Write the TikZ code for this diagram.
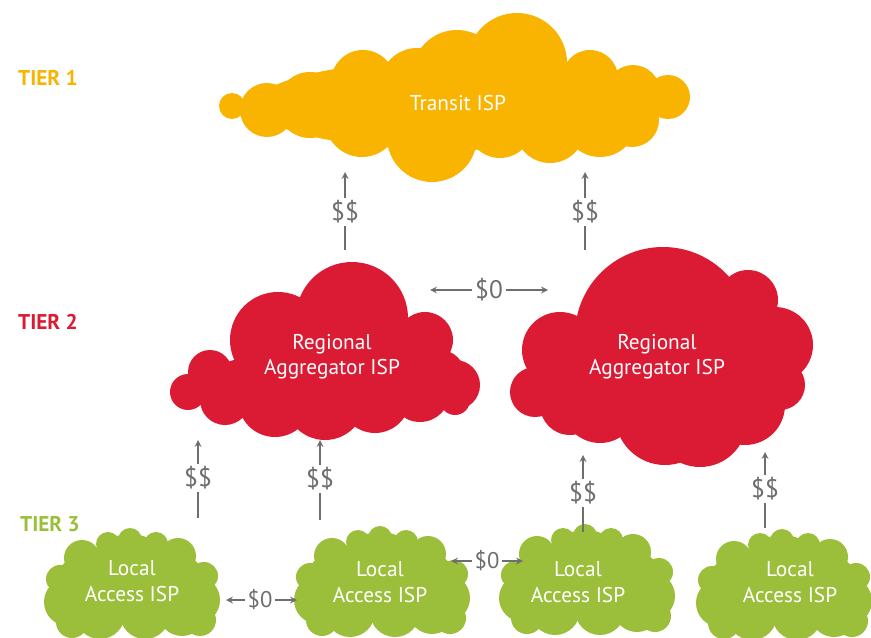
\documentclass[tikz,border=0pt]{standalone}
\usepackage{fontspec}
\setmainfont{PT Sans}
\definecolor{tierone}{HTML}{F8B400}
\definecolor{tiertwo}{HTML}{DB1A33}
\definecolor{tierthree}{HTML}{9CBF3B}
\definecolor{paygray}{HTML}{6E6E6E}
\newcommand\blobs[2]{\foreach \cx/\cy/\r in {#2} \fill[#1] (\cx,\cy) circle (\r);}
\newcommand\localcloud[2]{\foreach \dx/\dy/\r in {0/-6/44,-38/5/38,40/5/38,-62/18/24,66/16/24,-30/30/25,15/30/25,52/28/24,-70/-5/14,74/-8/14,-48/-26/18,48/-28/18,-22/-40/12,26/-40/12,0/-44/12,-58/38/16,70/36/16}
  \fill[tierthree] (#1+\dx,#2+\dy) circle (\r);}
\tikzset{
  tier/.style={font=\bfseries\fontsize{16}{18}\selectfont},
  isp/.style={text=white,align=center,font=\fontsize{16}{19}\selectfont},
  fee/.style={text=paygray,font=\fontsize{19}{19}\selectfont,inner sep=2pt},
  peer/.style={text=paygray,font=\fontsize{17}{17}\selectfont,inner sep=2pt},
  payline/.style={draw=paygray,line width=1.3pt}
}
\begin{document}
\begin{tikzpicture}[>=stealth,x=0.75pt,y=-0.75pt]
  \useasboundingbox (0,0) rectangle (871,638);
  \fill[tierone] (455,105) ellipse (200 and 45);
  \blobs{tierone}{232/106/13,267/110/27,310/105/33,363/82/32,362/120/37,417/85/37,457/75/45,432/137/45,517/63/50,500/125/33,550/128/35,590/78/28,600/120/37,633/92/27,632/120/27,668/97/22}
  \fill[tiertwo] (325,385) ellipse (130 and 35);
  \blobs{tiertwo}{352/318/56,278/340/48,350/360/50,400/365/35,425/340/28,440/375/25,455/385/25,210/372/22,188/392/18,225/400/25,275/400/37,325/400/40,375/398/35,420/392/30,455/400/15}
  \fill[tiertwo] (660,385) ellipse (140 and 45);
  \blobs{tiertwo}{663/335/88,748/300/30,775/345/38,560/350/38,535/392/25,570/405/30,600/405/38,665/415/50,700/420/47,745/405/40,780/385/25}
  \localcloud{130}{584}
  \localcloud{380}{582}
  \localcloud{585}{580}
  \localcloud{782}{585}
  \node[tier,text=tierone] (tierA) at (48,78) {TIER 1};
  \node[tier,text=tiertwo] (tierB) at (48,322) {TIER 2};
  \node[tier,text=tierthree] (tierC) at (50,524) {TIER 3};
  \node[isp] (transit) at (458,103) {Transit ISP};
  \node[isp] (regionA) at (332,357) {Regional\\Aggregator ISP};
  \node[isp] (regionB) at (657,357) {Regional\\Aggregator ISP};
  \node[isp] (localA) at (132,581) {Local\\Access ISP};
  \node[isp] (localB) at (380,582) {Local\\Access ISP};
  \node[isp] (localC) at (578,582) {Local\\Access ISP};
  \node[isp] (localD) at (790,582) {Local\\Access ISP};
  \foreach \n/\x/\a/\m/\b in {a/345/172/212/250,b/585/172/212/250,c/198/440/478/518,d/320/440/479/520,e/583/455/493/532,f/765/452/489/528}{
    \node[fee] (fee\n) at (\x,\m) {\$\$};
    \coordinate (up\n) at (\x,\a);
    \coordinate (dn\n) at (\x,\b);
    \draw[payline,->] (fee\n) -- (up\n);
    \draw[payline] (fee\n) -- (dn\n);
  }
  \node[fee] (peerA) at (489,290) {\$0};
  \coordinate (peerAl) at (430,290);
  \coordinate (peerAr) at (548,290);
  \node[peer] (peerB) at (260,600) {\$0};
  \coordinate (peerBl) at (226,600);
  \coordinate (peerBr) at (297,600);
  \node[peer] (peerC) at (487,561) {\$0};
  \coordinate (peerCl) at (451,561);
  \coordinate (peerCr) at (523,561);
  \foreach \p in {A,B,C}{
    \draw[payline,->] (peer\p) -- (peer\p l);
    \draw[payline,->] (peer\p) -- (peer\p r);
  }
\end{tikzpicture}
\end{document}
